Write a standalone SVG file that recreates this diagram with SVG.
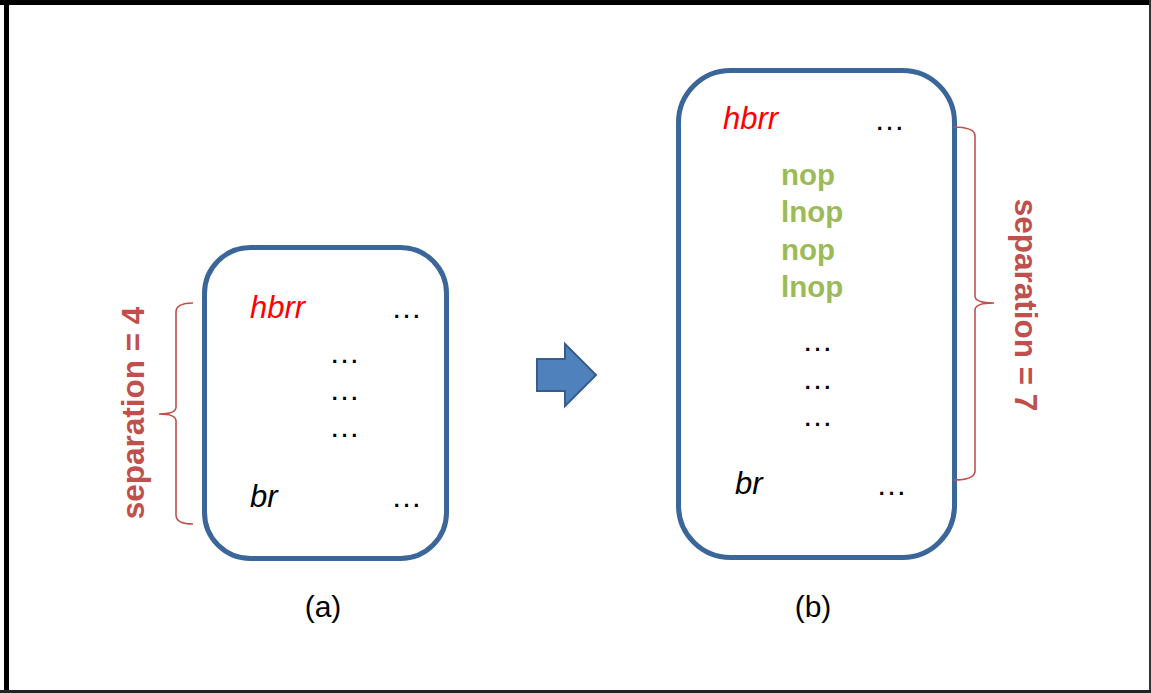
<svg xmlns="http://www.w3.org/2000/svg" width="1151" height="693" viewBox="0 0 1151 693">
<defs>
<style>
.box{fill:#fff;stroke:#3A6699;stroke-width:5}
.t{font-family:"Liberation Sans",Arial,sans-serif;font-size:30px;fill:#000}
.it{font-style:italic;font-size:31px}
.dots{font-size:31px}
.red{fill:#FF0000}
.grn{fill:#9BBB59;font-weight:bold;font-size:29.5px}
.sep{font-family:"Liberation Sans",Arial,sans-serif;font-size:31.5px;font-weight:bold;fill:#C0504D;text-anchor:middle}
.brace{fill:none;stroke:#C0504D;stroke-width:1.6}
.lbl{text-anchor:middle}
</style>
</defs>
<rect x="0" y="0" width="1151" height="693" fill="#fff"/>
<g id="frame">
<rect x="0" y="0" width="1151" height="5" fill="#000"/>
<rect x="4" y="0" width="5" height="693" fill="#000"/>
<rect x="1149" y="0" width="2" height="693" fill="#333"/>
<rect x="0" y="690" width="1151" height="3" fill="#222"/>
</g>
<g id="boxA">
<rect class="box" x="204.5" y="247.5" width="242" height="311" rx="46" ry="46"/>
<text class="t it red" x="250" y="318">hbrr</text>
<text class="t dots" x="391" y="318">…</text>
<text class="t dots" x="329" y="363">…</text>
<text class="t dots" x="329" y="400">…</text>
<text class="t dots" x="329" y="437">…</text>
<text class="t it" x="250" y="507">br</text>
<text class="t dots" x="391" y="507">…</text>
<text class="t lbl" x="323" y="617">(a)</text>
</g>
<g id="braceA">
<path class="brace" d="M193,303 Q176,303 176,312 L176,407 Q176,414 159,414 Q176,414 176,421 L176,515 Q176,524 193,524"/>
<text class="sep" transform="translate(144,413) rotate(-90)">separation = 4</text>
</g>
<g id="arrow">
<path d="M537,359 L565,359 L565,344 L596,375 L565,406 L565,391 L537,391 Z" fill="#4F81BD" stroke="#385D8A" stroke-width="2" stroke-linejoin="miter"/>
</g>
<g id="boxB">
<rect class="box" x="678.5" y="70.5" width="276" height="487" rx="52" ry="52"/>
<text class="t it red" x="723" y="129">hbrr</text>
<text class="t dots" x="874" y="130">…</text>
<text class="t grn" x="781" y="185">nop</text>
<text class="t grn" x="781" y="222">lnop</text>
<text class="t grn" x="781" y="260">nop</text>
<text class="t grn" x="781" y="297">lnop</text>
<text class="t dots" x="802" y="351">…</text>
<text class="t dots" x="802" y="389">…</text>
<text class="t dots" x="802" y="426">…</text>
<text class="t it" x="735" y="494">br</text>
<text class="t dots" x="876" y="495">…</text>
<text class="t lbl" x="813" y="617">(b)</text>
</g>
<g id="braceB">
<path class="brace" d="M953,127 Q975,127 975,136 L975,296 Q975,303 994,303 Q975,303 975,310 L975,471 Q975,480 953,480"/>
<text class="sep" transform="translate(1015,305) rotate(90)">separation = 7</text>
</g>
</svg>
